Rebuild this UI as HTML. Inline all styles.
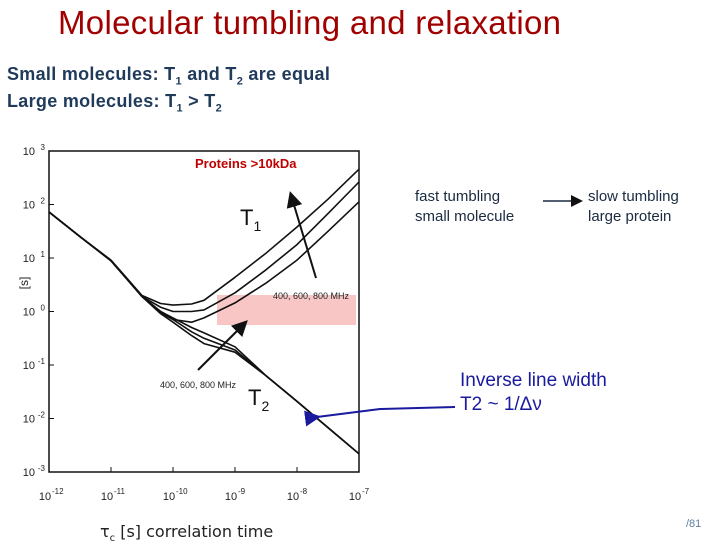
<!DOCTYPE html>
<html><head><meta charset="utf-8">
<style>
body{margin:0;width:720px;height:540px;background:#fff;overflow:hidden;position:relative;font-family:"Liberation Sans",sans-serif}
.a{position:absolute;white-space:nowrap}
</style></head><body>
<div class="a" style="left:58px;top:4px;font-size:33px;color:#a00000;letter-spacing:0.3px">Molecular tumbling and relaxation</div>
<div class="a" style="left:7px;top:64px;font-size:18px;font-weight:bold;color:#1f3a5a;letter-spacing:0.3px">Small molecules: T<sub style="font-size:11px">1</sub> and T<sub style="font-size:11px">2</sub> are equal</div>
<div class="a" style="left:7px;top:91px;font-size:18px;font-weight:bold;color:#1f3a5a;letter-spacing:0.3px">Large molecules: T<sub style="font-size:11px">1</sub> &gt; T<sub style="font-size:11px">2</sub></div>
<div class="a" style="left:415px;top:187px;font-size:15px;color:#1a2a40;line-height:20px;">fast tumbling<br>small molecule</div>
<div class="a" style="left:588px;top:187px;font-size:15px;color:#1a2a40;line-height:20px;">slow tumbling<br>large protein</div>
<div class="a" style="left:460px;top:369px;font-size:19px;color:#1a1aa0;line-height:24px;">Inverse line width<br>T2 ~ 1/Δν</div>
<div class="a" style="left:686px;top:518px;font-size:11px;color:#6080a0;">/81</div>
<div class="a" style="left:100px;top:522px;font-size:16px;color:#222;font-family:'DejaVu Sans',sans-serif;">τ<sub style="font-size:10px">c</sub> [s] correlation time</div>
<svg id="c" width="720" height="540" style="position:absolute;left:0;top:0"></svg>
<script>
const xLogs=[-12,-11.5,-11,-10.5,-10.2,-10,-9.7,-9.5,-9,-8.5,-8,-7.5,-7];
const t1Top=[1.86,1.4,0.96,0.3,0.15,0.12,0.14,0.21,0.64,1.09,1.58,2.1,2.66];
const t1Mid=[1.86,1.4,0.95,0.28,0.08,0.0,0.0,0.03,0.35,0.78,1.25,1.83,2.42];
const t1Bot=[1.86,1.4,0.95,0.28,0.0,-0.15,-0.2,-0.12,0.16,0.53,0.96,1.5,2.05];
const t2A=[1.86,1.4,0.95,0.28,0.0,-0.12,-0.3,-0.4,-0.66,-1.2,-1.68,-2.17,-2.66];
const t2B=[1.86,1.4,0.95,0.28,-0.02,-0.15,-0.38,-0.5,-0.72,-1.2,-1.68,-2.17,-2.66];
const t2C=[1.86,1.4,0.95,0.28,-0.04,-0.2,-0.45,-0.6,-0.76,-1.2,-1.68,-2.17,-2.66];
const xTicks=[-12,-11,-10,-9,-8,-7];
const yTicks=[3,2,1,0,-1,-2,-3];
const L=49,R=359,T=151,B=472;
const X=v=>L+(v+12)/5*(R-L);
const Y=v=>T+(3-v)/6*(B-T);
const s=document.getElementById('c');const NS='http://www.w3.org/2000/svg';
function mk(t,a,txt,par){const e=document.createElementNS(NS,t);for(const k in a)e.setAttribute(k,a[k]);if(txt!=null)e.textContent=txt;(par||s).appendChild(e);return e;}
let e=mk('rect',{x:217,y:295,width:139,height:30,fill:'#f8b8b8',opacity:0.8});

e=mk('rect',{x:L,y:T,width:R-L,height:B-T,fill:'none',stroke:'#111','stroke-width':1.5});

xTicks.forEach(v=>{e=mk('text',{x:X(v)-4,y:B+28,'text-anchor':'middle','font-size':11,fill:'#222'},'10');

mk('text',{x:X(v)+3,y:B+22,'font-size':8,fill:'#222'},String(v));
mk('line',{x1:X(v),x2:X(v),y1:B,y2:B-5,stroke:'#111'});});
yTicks.forEach(v=>{e=mk('text',{x:L-14,y:Y(v)+4,'text-anchor':'end','font-size':11,fill:'#222'},'10');

mk('text',{x:L-4,y:Y(v)-1,'text-anchor':'end','font-size':8,fill:'#222'},String(v));
mk('line',{x1:L,x2:L+5,y1:Y(v),y2:Y(v),stroke:'#111'});});
e=mk('text',{x:28,y:283,'font-size':12,fill:'#222',transform:'rotate(-90 28 283)','text-anchor':'middle'},'[s]');

[[t1Top,'t1-800'],[t1Mid,'t1-600'],[t1Bot,'t1-400'],[t2A,'t2-400'],[t2B,'t2-600'],[t2C,'t2-800']].forEach(([arr,n])=>{
const d=arr.map((v,i)=>(i?'L':'M')+X(xLogs[i]).toFixed(1)+' '+Y(v).toFixed(1)).join(' ');
const p=mk('path',{d:d,fill:'none',stroke:'#111','stroke-width':1.6,'stroke-linejoin':'round'});
});
mk('defs',{}).innerHTML='<marker id="ah" markerWidth="8" markerHeight="8" refX="6" refY="4" orient="auto"><path d="M0,0 L8,4 L0,8z" fill="#111"/></marker><marker id="bh" markerWidth="8" markerHeight="8" refX="2" refY="4" orient="auto"><path d="M8,0 L0,4 L8,8z" fill="#1a1aa0"/></marker>';
e=mk('line',{x1:316,y1:278,x2:291,y2:195,stroke:'#111','stroke-width':2,'marker-end':'url(#ah)'});

e=mk('line',{x1:198,y1:370,x2:245,y2:323,stroke:'#111','stroke-width':2,'marker-end':'url(#ah)'});

e=mk('line',{x1:543,y1:201,x2:580,y2:201,stroke:'#1a2a40','stroke-width':1.5,'marker-end':'url(#ah)'});

e=mk('path',{d:'M455 407 L380 409 L317 417',fill:'none',stroke:'#1a1aa0','stroke-width':2,'marker-end':'url(#bh)'});

e=mk('text',{x:195,y:168,'font-size':13,'font-weight':'bold',fill:'#c00000'},'Proteins >10kDa');

e=mk('text',{x:240,y:225,'font-size':22,fill:'#111'},'T');mk('tspan',{dy:6,'font-size':14},'1',e);

e=mk('text',{x:248,y:405,'font-size':22,fill:'#111'},'T');mk('tspan',{dy:6,'font-size':14},'2',e);

e=mk('text',{x:273,y:299,'font-size':9,fill:'#222'},'400, 600, 800 MHz');

e=mk('text',{x:160,y:388,'font-size':9,fill:'#222'},'400, 600, 800 MHz');

</script>
</body></html>
